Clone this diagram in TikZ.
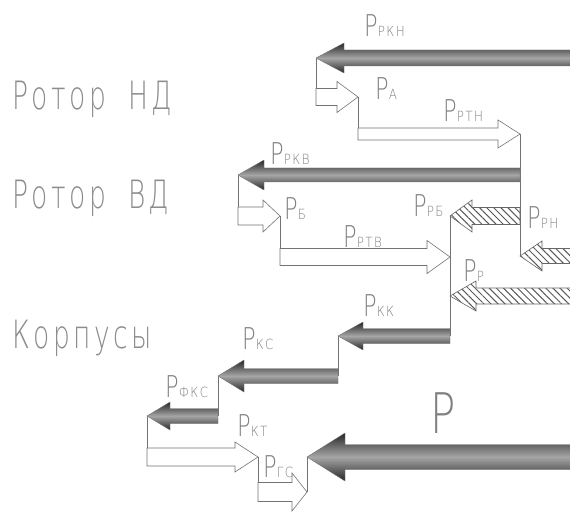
\documentclass[tikz,border=0pt]{standalone}
\usepackage{fontspec}
\usetikzlibrary{calc,patterns.meta}
\newfontfamily\gost{DejaVu Sans ExtraLight}[FakeStretch=0.75]
\newfontfamily\gostsub{DejaVu Sans ExtraLight}[FakeStretch=0.85,LetterSpace=10]
\newfontfamily\gostwide{DejaVu Sans ExtraLight}[FakeStretch=0.68,LetterSpace=9]

\tikzset{
  wire/.style={draw=black!55, line width=.6pt},
  hollow/.style={draw=black!55, line width=.6pt, fill=white},
  hatched/.style={draw=black!60, line width=.6pt, pattern={Lines[angle=-45,distance=5pt,line width=1pt]}, pattern color=black!65},
  heavy/.style={draw=black!55, line width=.4pt, top color=black!85, bottom color=black!85, middle color=black!35},
  lbl/.style={anchor=base west, inner sep=0pt, text=black!50, font=\gost\fontsize{30}{30}\selectfont},
  part/.style={anchor=base west, inner sep=0pt, text=black!45, font=\gostwide\fontsize{39}{39}\selectfont},
}
\newcommand\sub[1]{{\gostsub\fontsize{14}{14}\selectfont #1}}
% #1 style, #2 tail, #3 tip, #4 half shaft, #5 half head, #6 head length
\newcommand\flow[6]{%
  \path[#1] let \p1=(#2), \p2=(#3), \n1={sign(\x1-\x2)*#6} in
    ({\x1},{\y2+#4}) -- ({\x2+(\n1)},{\y2+#4}) -- ({\x2+(\n1)},{\y2+#5}) -- (\x2,\y2)
    -- ({\x2+(\n1)},{\y2-#5}) -- ({\x2+(\n1)},{\y2-#4}) -- ({\x1},{\y2-#4}) -- cycle;}

\begin{document}
\begin{tikzpicture}[x=1pt, y=-1pt]
  \useasboundingbox (0,0) rectangle (570,513);

  % Ends of the flows:
  \coordinate (rkn-tail) at (575,58);   \coordinate (rkn-tip) at (316,58);
  \coordinate (pa-tail) at (316,97);    \coordinate (pa-tip) at (358,97);
  \coordinate (rtn-tail) at (358,134);  \coordinate (rtn-tip) at (520,134);
  \coordinate (rkv-tail) at (520,175);  \coordinate (rkv-tip) at (238,175);
  \coordinate (pb-tail) at (238,216);   \coordinate (pb-tip) at (280,216);
  \coordinate (rtv-tail) at (280,257);  \coordinate (rtv-tip) at (450,257);
  \coordinate (rb-tail) at (520,216);   \coordinate (rb-tip) at (450,216);
  \coordinate (rh-tail) at (575,256);   \coordinate (rh-tip) at (520,256);
  \coordinate (rp-tail) at (575,296);   \coordinate (rp-tip) at (450,296);
  \coordinate (kk-tail) at (450,336);   \coordinate (kk-tip) at (338,336);
  \coordinate (kc-tail) at (338,376);   \coordinate (kc-tip) at (218,376);
  \coordinate (fkc-tail) at (218,416);  \coordinate (fkc-tip) at (147,416);
  \coordinate (kt-tail) at (147,457);   \coordinate (kt-tip) at (258,457);
  \coordinate (gc-tail) at (258,492);   \coordinate (gc-tip) at (307,492);
  \coordinate (p-tail) at (575,457);    \coordinate (p-tip) at (307,457);

  % Wires:
  \draw[wire] (rkn-tip) -- (pa-tail);
  \draw[wire] (pa-tip) -- (rtn-tail);
  \draw[wire] (rtn-tip) -- (rh-tip);
  \draw[wire] (rkv-tip) -- (pb-tail);
  \draw[wire] (pb-tip) -- (rtv-tail);
  \draw[wire] (rb-tip) -- (kk-tail);
  \draw[wire] (kk-tip) -- (kc-tail);
  \draw[wire] (kc-tip) -- (fkc-tail);
  \draw[wire] (fkc-tip) -- (kt-tail);
  \draw[wire] (kt-tip) -- (gc-tail);
  \draw[wire] (p-tip) -- (gc-tip);

  % Flows:
  \flow{heavy}{rkn-tail}{rkn-tip}{8pt}{15pt}{28pt}
  \flow{hollow}{pa-tail}{pa-tip}{8.5pt}{15.5pt}{21pt}
  \flow{hollow}{rtn-tail}{rtn-tip}{6pt}{14pt}{22pt}
  \flow{heavy}{rkv-tail}{rkv-tip}{7pt}{15pt}{26pt}
  \flow{hollow}{pb-tail}{pb-tip}{9pt}{16pt}{17pt}
  \flow{hollow}{rtv-tail}{rtv-tip}{8.5pt}{16.5pt}{23pt}
  \flow{hatched}{rb-tail}{rb-tip}{8.5pt}{16pt}{22pt}
  \flow{hatched}{rh-tail}{rh-tip}{7.5pt}{15pt}{22pt}
  \flow{hatched}{rp-tail}{rp-tip}{8pt}{15pt}{26pt}
  \flow{heavy}{kk-tail}{kk-tip}{7.5pt}{14pt}{25pt}
  \flow{heavy}{kc-tail}{kc-tip}{7.5pt}{16pt}{26pt}
  \flow{heavy}{fkc-tail}{fkc-tip}{7.5pt}{14pt}{23pt}
  \flow{hollow}{kt-tail}{kt-tip}{9pt}{15pt}{23pt}
  \flow{hollow}{gc-tail}{gc-tip}{9.5pt}{19pt}{15pt}
  \flow{heavy}{p-tail}{p-tip}{12.5pt}{24pt}{38pt}

  % Labels:
  \node[part] (rotor-nd) at (12,110) {Ротор\hspace{22pt}НД};
  \node[part] (rotor-vd) at (12,208) {Ротор\hspace{22pt}ВД};
  \node[part] (korpus) at (12,348) {Корпусы};
  \node[lbl] (l-rkn) at (364,37) {P\sub{РКН}};
  \node[lbl] (l-pa) at (375,100) {P\sub{А}};
  \node[lbl] (l-rtn) at (443,122) {P\sub{РТН}};
  \node[lbl] (l-rkv) at (270,165) {P\sub{РКВ}};
  \node[lbl] (l-pb) at (284,219) {P\sub{Б}};
  \node[lbl] (l-rtv) at (343,247) {P\sub{РТВ}};
  \node[lbl] (l-rb) at (413,217) {P\sub{РБ}};
  \node[lbl] (l-rh) at (527,229) {P\sub{РН}};
  \node[lbl] (l-rp) at (463,281) {P\sub{Р}};
  \node[lbl] (l-kk) at (363,316) {P\sub{КК}};
  \node[lbl] (l-kc) at (242,349) {P\sub{КС}};
  \node[lbl] (l-fkc) at (165,397) {P\sub{ФКС}};
  \node[lbl] (l-kt) at (237,436) {P\sub{КТ}};
  \node[lbl] (l-gc) at (263,477) {P\sub{ГС}};
  \node[lbl, font=\gost\fontsize{56}{56}\selectfont] (l-p) at (430,433) {P};
\end{tikzpicture}
\end{document}
